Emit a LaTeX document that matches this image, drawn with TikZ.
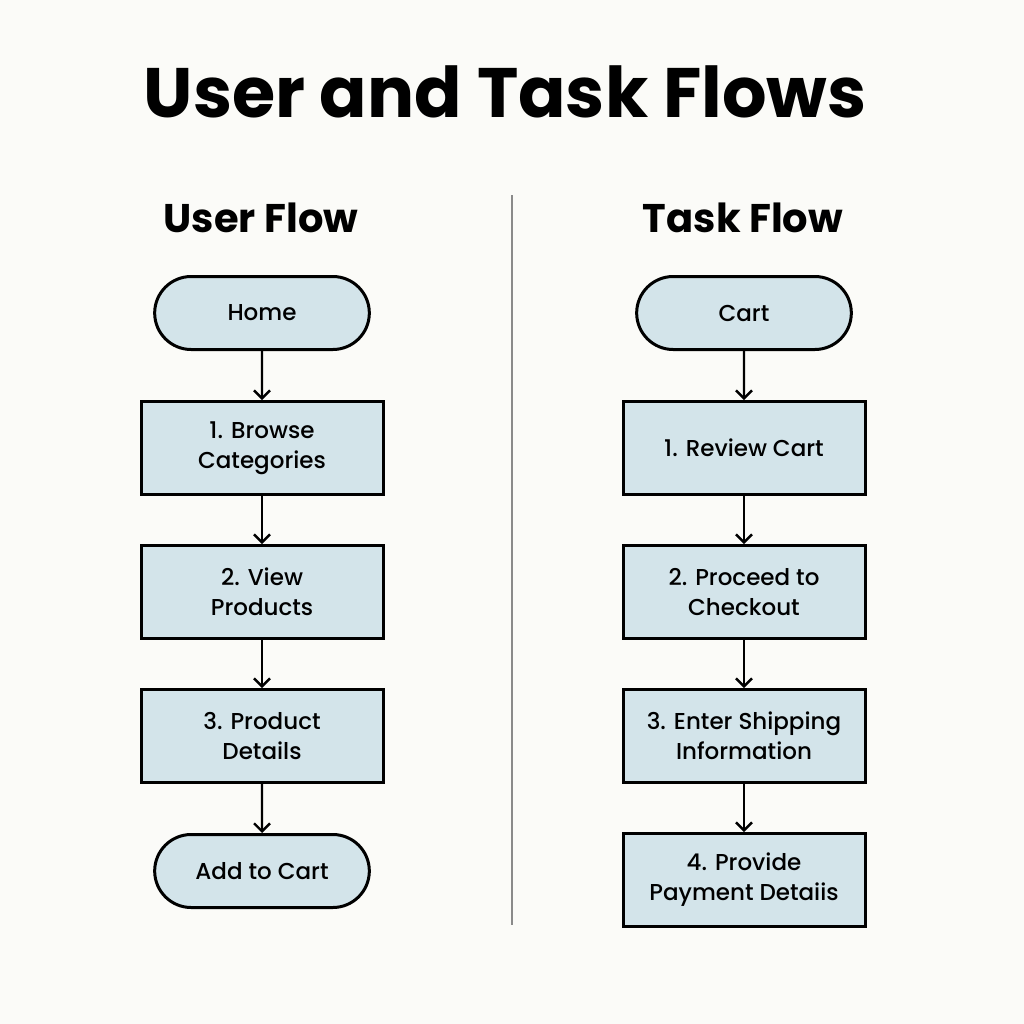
\documentclass[tikz,border=0pt]{standalone}
\usepackage{fontspec}
\setmainfont{Poppins}
\newfontfamily\medfont{Poppins Medium}
\usetikzlibrary{arrows.meta,shapes.misc}
\definecolor{boxfill}{HTML}{D3E4EA}
\definecolor{paper}{HTML}{FBFBF8}
\definecolor{rule}{HTML}{8A8A8A}
\begin{document}
\begin{tikzpicture}[x=0.5pt,y=-0.5pt,
  step box/.style={draw,line width=1.5pt,fill=boxfill,minimum width=121pt,minimum height=46.5pt,
    align=center,font=\medfont\fontsize{11.5}{15}\selectfont,inner sep=2pt},
  end box/.style={draw,line width=1.5pt,fill=boxfill,rounded rectangle,minimum width=114pt,
    minimum height=36.5pt,font=\medfont\fontsize{11.5}{15}\selectfont},
  flow/.style={-{Straight Barb[length=4pt,width=8pt,line width=1.2pt]},line width=1.2pt}]
\fill[paper] (0,0) rectangle (1024,1024);
\useasboundingbox (0,0) rectangle (1024,1024);
\node (title) at (505,92) {\fontsize{35}{40}\selectfont\bfseries User and Task Flows};
\draw[rule,line width=0.6pt] (512,195) -- (512,925);
\node (UF) at (261,218) {\fontsize{20}{26}\selectfont\bfseries User Flow};
\node (TF) at (743,218) {\fontsize{20}{26}\selectfont\bfseries Task Flow};
% user flow
\node[end box] (home) at (262,313) {Home};
\node[step box] (U1) at (262,448) {1. Browse\\Categories};
\node[step box] (U2) at (262,592) {2. View\\Products};
\node[step box] (U3) at (262,736) {3. Product\\Details};
\node[end box] (add) at (262,871) {Add to Cart};
% task flow
\node[end box] (cart) at (744,313) {Cart};
\node[step box] (T1) at (744,448) {1. Review Cart};
\node[step box] (T2) at (744,592) {2. Proceed to\\Checkout};
\node[step box] (T3) at (744,736) {3. Enter Shipping\\Information};
\node[step box] (T4) at (744,880) {4. Provide\\Payment Detaiis};
\path
  (home) edge[flow] (U1)
  (U1) edge[flow] (U2)
  (U2) edge[flow] (U3)
  (U3) edge[flow] (add)
  (cart) edge[flow] (T1)
  (T1) edge[flow] (T2)
  (T2) edge[flow] (T3)
  (T3) edge[flow] (T4)
;
\end{tikzpicture}
\end{document}
